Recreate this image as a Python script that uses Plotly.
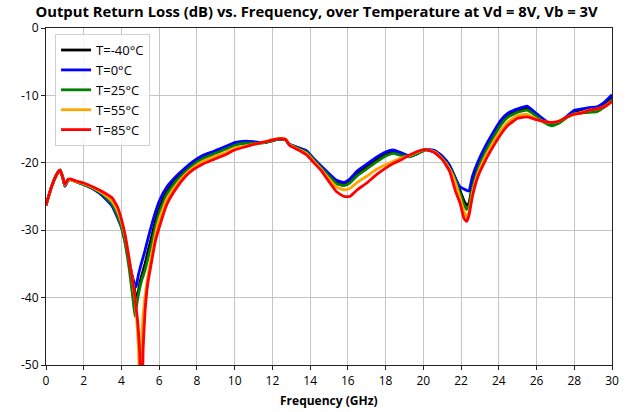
import plotly.graph_objects as go

freq = [
    0, 0.3, 0.55, 0.75, 0.9, 1.0, 1.15, 1.3, 1.6, 2.0,
    2.5, 3.0, 3.5, 3.8, 4.0, 4.2, 4.4, 4.55, 4.65, 4.72,
    4.77, 4.84, 4.9, 4.97, 5.03, 5.09, 5.15, 5.25, 5.4, 5.6,
    5.8, 6.0, 6.4, 6.9, 7.4, 7.8, 8.3, 8.9, 9.5, 10.0,
    10.6, 11.1, 11.6, 12.0, 12.4, 12.7, 12.9, 13.3, 13.8, 14.2,
    14.6, 15.0, 15.4, 15.8, 16.1, 16.5, 17.0, 17.5, 18.0, 18.4,
    18.8, 19.3, 19.7, 20.1, 20.6, 21.0, 21.4, 21.7, 21.95, 22.15,
    22.3, 22.42, 22.6, 22.9, 23.3, 23.7, 24.1, 24.5, 25.0, 25.5,
    26.0, 26.4, 26.8, 27.2, 27.6, 28.0, 28.4, 28.8, 29.2, 29.6, 30.0,
]

rl_m40 = [
    -26.3, -23.5, -21.8, -21.1, -22.3, -23.4, -22.6, -22.5, -22.8, -23.2,
    -23.8, -24.7, -26.0, -27.6, -29.2, -31.5, -34.5, -36.8, -38.2, -39.2,
    -39.7, -40.1, -39.0, -37.9, -37.2, -36.6, -36.0, -35.0, -33.2, -31.0,
    -28.6, -26.8, -24.3, -22.4, -21.0, -20.1, -19.2, -18.5, -17.8, -17.3,
    -17.0, -17.0, -17.0, -16.7, -16.5, -16.6, -17.3, -17.7, -18.3, -19.5,
    -20.7, -21.8, -22.9, -23.2, -22.8, -21.6, -20.6, -19.6, -18.7, -18.3,
    -18.7, -19.0, -18.6, -18.0, -18.3, -19.2, -20.6, -22.3, -24.2, -25.6,
    -26.3, -26.0, -23.3, -20.5, -18.0, -16.0, -14.1, -12.9, -12.2, -11.9,
    -13.0, -13.9, -14.4, -14.0, -13.2, -12.5, -12.3, -12.2, -12.0, -11.3, -10.3,
]

rl_0 = [
    -26.3, -23.5, -21.8, -21.1, -22.3, -23.5, -22.7, -22.5, -22.8, -23.2,
    -23.9, -24.9, -26.4, -28.2, -29.6, -31.8, -34.6, -36.5, -37.6, -38.2,
    -38.4, -37.5, -36.6, -35.8, -35.2, -34.6, -34.0, -33.0, -31.3, -29.2,
    -27.3, -25.7, -23.6, -22.0, -20.7, -19.8, -18.9, -18.3, -17.6, -17.0,
    -16.8, -16.9, -17.0, -16.7, -16.5, -16.6, -17.2, -17.7, -18.2, -19.4,
    -20.5, -21.6, -22.6, -22.9, -22.4, -21.2, -20.2, -19.2, -18.4, -18.1,
    -18.5, -19.0, -18.6, -18.0, -18.2, -19.0, -20.4, -22.3, -23.6, -23.9,
    -24.1, -24.2, -22.0, -19.8, -17.5, -15.5, -13.7, -12.6, -12.0, -11.6,
    -12.7, -13.6, -14.3, -14.0, -13.1, -12.2, -12.0, -11.8, -11.7, -11.0, -9.9,
]

rl_25 = [
    -26.3, -23.5, -21.8, -21.1, -22.3, -23.4, -22.6, -22.5, -22.8, -23.2,
    -23.8, -24.7, -26.1, -27.9, -29.5, -32.0, -35.5, -38.8, -41.2, -42.8,
    -41.8, -40.5, -39.5, -38.6, -37.9, -37.3, -36.8, -35.9, -34.2, -32.0,
    -29.5, -27.4, -24.7, -22.7, -21.3, -20.3, -19.4, -18.7, -18.0, -17.4,
    -17.1, -17.1, -17.0, -16.7, -16.5, -16.6, -17.3, -17.8, -18.4, -19.6,
    -20.8, -22.0, -23.1, -23.4, -23.0, -21.9, -20.9, -19.9, -19.0, -18.6,
    -18.9, -19.1, -18.6, -18.1, -18.4, -19.3, -20.8, -22.6, -24.6, -26.2,
    -26.9, -26.5, -23.8, -20.9, -18.3, -16.3, -14.4, -13.2, -12.5, -12.2,
    -13.1, -14.0, -14.5, -14.1, -13.3, -12.7, -12.6, -12.5, -12.4, -11.7, -10.6,
]

rl_55 = [
    -26.3, -23.5, -21.8, -21.1, -22.3, -23.3, -22.6, -22.5, -22.8, -23.1,
    -23.7, -24.5, -25.7, -27.2, -28.8, -31.0, -34.0, -36.8, -38.8, -40.3,
    -42.0, -44.5, -47.5, -53.0, -49.5, -45.0, -42.5, -39.8, -36.8, -33.6,
    -30.6, -28.4, -25.4, -23.3, -21.7, -20.7, -19.8, -19.1, -18.5, -17.8,
    -17.5, -17.2, -16.9, -16.6, -16.4, -16.5, -17.3, -17.9, -18.6, -19.8,
    -21.0, -22.4, -23.6, -24.0, -23.8, -22.9, -22.0, -21.0, -20.3, -19.8,
    -19.3, -18.9, -18.4, -18.0, -18.4, -19.4, -21.0, -23.0, -25.3, -27.2,
    -28.1, -27.3, -24.5, -21.5, -19.0, -17.0, -15.2, -13.9, -13.0, -12.8,
    -13.5, -13.9, -14.0, -13.8, -13.2, -12.8, -12.5, -12.2, -12.0, -11.6, -10.9,
]

rl_85 = [
    -26.3, -23.5, -21.8, -21.1, -22.3, -23.2, -22.5, -22.4, -22.7, -23.0,
    -23.6, -24.3, -25.2, -26.6, -28.4, -30.8, -34.2, -36.9, -38.7, -40.1,
    -41.5, -43.0, -45.0, -48.3, -53.0, -53.0, -47.5, -42.0, -37.8, -34.6,
    -31.6, -29.6, -26.2, -23.8, -22.0, -21.0, -20.2, -19.5, -18.8, -18.1,
    -17.6, -17.2, -16.9, -16.6, -16.4, -16.5, -17.4, -18.0, -18.8, -20.0,
    -21.2, -22.8, -24.3, -25.0, -25.0, -24.0, -23.0, -21.8, -20.8, -20.1,
    -19.6, -18.8, -18.3, -18.0, -18.5, -19.5, -21.3, -24.2, -26.0, -28.2,
    -28.7, -27.8, -25.0, -22.0, -19.6, -17.6, -15.8, -14.4, -13.4, -13.2,
    -13.6, -13.9, -14.0, -13.8, -13.2, -12.8, -12.6, -12.2, -12.0, -11.7, -10.9,
]

series_names = ["T=-40°C", "T=0°C", "T=25°C", "T=55°C", "T=85°C"]
series_values = [rl_m40, rl_0, rl_25, rl_55, rl_85]
series_colors = ["#000000", "#0000ff", "#008000", "#ffa500", "#ff0000"]

x_ticks = list(range(0, 31, 2))
y_ticks = [0, -10, -20, -30, -40, -50]

for v in series_values:
    assert len(v) == len(freq), len(v)

fig = go.Figure()
for name, vals, col in zip(series_names, series_values, series_colors):
    fig.add_trace(go.Scatter(
        x=freq, y=vals, mode="lines", name=name,
        line=dict(color=col, width=2.8, shape="spline", smoothing=0.4),
    ))

FONT = "Open Sans"
fig.update_layout(
    width=633, height=412,
    margin=dict(l=46, r=21, t=28, b=47),
    paper_bgcolor="white", plot_bgcolor="white",
    title=dict(
        text="<b>Output Return Loss (dB) vs. Frequency, over Temperature at Vd = 8V, Vb = 3V</b>",
        x=0.5, xanchor="center", y=0.985, yanchor="top",
        font=dict(family=FONT, size=14.8, color="black"),
    ),
    font=dict(family=FONT, size=12, color="black"),
    showlegend=True,
    legend=dict(
        x=0.016, y=0.982, xanchor="left", yanchor="top",
        bgcolor="rgba(255,255,255,0.85)", bordercolor="#d0d0d0", borderwidth=1,
        font=dict(family=FONT, size=13, color="black"),
        tracegroupgap=0,
    ),
    annotations=[dict(
        text="<b>Frequency (GHz)</b>", xref="paper", yref="paper",
        x=0.5, y=0, xanchor="center", yanchor="middle", yshift=-35,
        showarrow=False, font=dict(family=FONT, size=12, color="black"),
    )],
)
fig.update_xaxes(
    range=[0, 30], tickvals=x_ticks, ticktext=[str(t) for t in x_ticks],
    showgrid=True, gridcolor="#c4c4c4", gridwidth=1,
    showline=True, linecolor="#222222", linewidth=1.2, mirror=True,
    ticks="outside", ticklen=4, tickcolor="#222222",
    zeroline=False, automargin=False,
)
fig.update_yaxes(
    range=[-50, 0], tickvals=y_ticks, ticktext=[str(t) for t in y_ticks],
    showgrid=True, gridcolor="#c4c4c4", gridwidth=1,
    showline=True, linecolor="#222222", linewidth=1.2, mirror=True,
    ticks="outside", ticklen=4, tickcolor="#222222",
    zeroline=False, automargin=False,
)

fig.write_html("out.html")
